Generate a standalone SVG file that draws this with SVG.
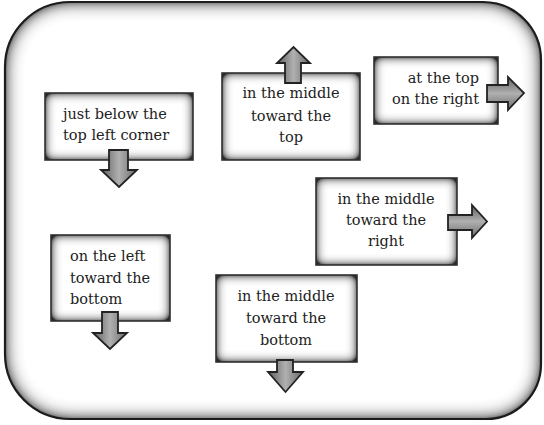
<svg xmlns="http://www.w3.org/2000/svg" width="544" height="425" viewBox="0 0 544 425">
<style>
.fill{fill:#ffffff;}
.frame-line{fill:none;stroke:#1c1c1c;stroke-width:2.2;}
.box-line{fill:none;stroke:#303030;stroke-width:1.6;}
.lbl{font-family:"DejaVu Serif","Liberation Serif",serif;font-size:14.5px;fill:#222;}
.mid{text-anchor:middle;}
.end{text-anchor:end;}
.arr-v{fill:url(#gv);stroke:#222;stroke-width:1.8;stroke-linejoin:miter;}
.arr-h{fill:url(#gh);stroke:#222;stroke-width:1.8;stroke-linejoin:miter;}
</style>
<defs>
<filter id="ishBox" x="-20%" y="-20%" width="140%" height="140%">
  <feComponentTransfer in="SourceAlpha" result="inv"><feFuncA type="table" tableValues="1 0"/></feComponentTransfer>
  <feGaussianBlur in="inv" stdDeviation="5.5" result="blur"/>
  <feComponentTransfer in="blur" result="blur2"><feFuncA type="linear" slope="1.8" intercept="0"/></feComponentTransfer>
  <feFlood flood-color="#2a2a2a" result="col"/>
  <feComposite in="col" in2="blur2" operator="in" result="sh"/>
  <feComposite in="sh" in2="SourceAlpha" operator="in" result="ish"/>
  <feMerge><feMergeNode in="SourceGraphic"/><feMergeNode in="ish"/></feMerge>
</filter>
<filter id="ishFrame" x="-10%" y="-10%" width="120%" height="120%">
  <feComponentTransfer in="SourceAlpha" result="inv"><feFuncA type="table" tableValues="1 0"/></feComponentTransfer>
  <feGaussianBlur in="inv" stdDeviation="9" result="blur"/>
  <feComponentTransfer in="blur" result="blur2"><feFuncA type="linear" slope="1.7" intercept="0"/></feComponentTransfer>
  <feFlood flood-color="#2a2a2a" result="col"/>
  <feComposite in="col" in2="blur2" operator="in" result="sh"/>
  <feComposite in="sh" in2="SourceAlpha" operator="in" result="ish"/>
  <feMerge><feMergeNode in="SourceGraphic"/><feMergeNode in="ish"/></feMerge>
</filter>
<linearGradient id="gv" x1="0" y1="0" x2="1" y2="0">
  <stop offset="0" stop-color="#5e5e5e"/>
  <stop offset="0.5" stop-color="#b0b0b0"/>
  <stop offset="1" stop-color="#6a6a6a"/>
</linearGradient>
<linearGradient id="gh" x1="0" y1="0" x2="0" y2="1">
  <stop offset="0" stop-color="#5e5e5e"/>
  <stop offset="0.5" stop-color="#b0b0b0"/>
  <stop offset="1" stop-color="#6a6a6a"/>
</linearGradient>
</defs>

<g id="frame">
  <path class="fill" filter="url(#ishFrame)" d="M70,2 H483 A58,58 0 0 1 541,60 V364 A55,55 0 0 1 486,419 H70 A65,65 0 0 1 5,354 V67 A65,65 0 0 1 70,2 Z"/>
  <path class="frame-line" d="M70,2 H483 A58,58 0 0 1 541,60 V364 A55,55 0 0 1 486,419 H70 A65,65 0 0 1 5,354 V67 A65,65 0 0 1 70,2 Z"/>
</g>

<g id="connectors"></g>

<g id="node-top-left">
  <rect class="fill" filter="url(#ishBox)" x="45" y="93" width="148" height="67"/>
  <rect class="box-line" x="45" y="93" width="148" height="67"/>
  <text class="lbl" x="63" y="119">just below the</text>
  <text class="lbl" x="63" y="140">top left corner</text>
  <path class="arr-v" d="M109,150 H128 V170 H137 L119,187 L101,170 H109 Z"/>
</g>

<g id="node-middle-top">
  <rect class="fill" filter="url(#ishBox)" x="222" y="73" width="138" height="87"/>
  <rect class="box-line" x="222" y="73" width="138" height="87"/>
  <text class="lbl mid" x="291" y="98">in the middle</text>
  <text class="lbl mid" x="291" y="121">toward the</text>
  <text class="lbl mid" x="291" y="142">top</text>
  <path class="arr-v" d="M285,83 V63 H277 L293.5,47 L310,63 H301 V83 Z"/>
</g>

<g id="node-top-right">
  <rect class="fill" filter="url(#ishBox)" x="374" y="57" width="124" height="67"/>
  <rect class="box-line" x="374" y="57" width="124" height="67"/>
  <text class="lbl end" x="479" y="83">at the top</text>
  <text class="lbl end" x="479" y="104">on the right</text>
  <path class="arr-h" d="M487,85 H508 V77 L524,93 L508,110 V102 H487 Z"/>
</g>

<g id="node-middle-right">
  <rect class="fill" filter="url(#ishBox)" x="316" y="178" width="141" height="87"/>
  <rect class="box-line" x="316" y="178" width="141" height="87"/>
  <text class="lbl mid" x="386" y="204">in the middle</text>
  <text class="lbl mid" x="386" y="225">toward the</text>
  <text class="lbl mid" x="386" y="246">right</text>
  <path class="arr-h" d="M448,215 H472 V205 L487,221.5 L472,238 V230 H448 Z"/>
</g>

<g id="node-left-bottom">
  <rect class="fill" filter="url(#ishBox)" x="51" y="235" width="119" height="86"/>
  <rect class="box-line" x="51" y="235" width="119" height="86"/>
  <text class="lbl" x="70" y="261">on the left</text>
  <text class="lbl" x="70" y="283">toward the</text>
  <text class="lbl" x="70" y="304">bottom</text>
  <path class="arr-v" d="M102,312 H118 V333 H127 L110,349 L93,333 H102 Z"/>
</g>

<g id="node-middle-bottom">
  <rect class="fill" filter="url(#ishBox)" x="216" y="275" width="141" height="87"/>
  <rect class="box-line" x="216" y="275" width="141" height="87"/>
  <text class="lbl mid" x="286" y="301">in the middle</text>
  <text class="lbl mid" x="286" y="323">toward the</text>
  <text class="lbl mid" x="286" y="345">bottom</text>
  <path class="arr-v" d="M277,360 H293 V372 H303 L285.5,392 L268,372 H277 Z"/>
</g>
</svg>
